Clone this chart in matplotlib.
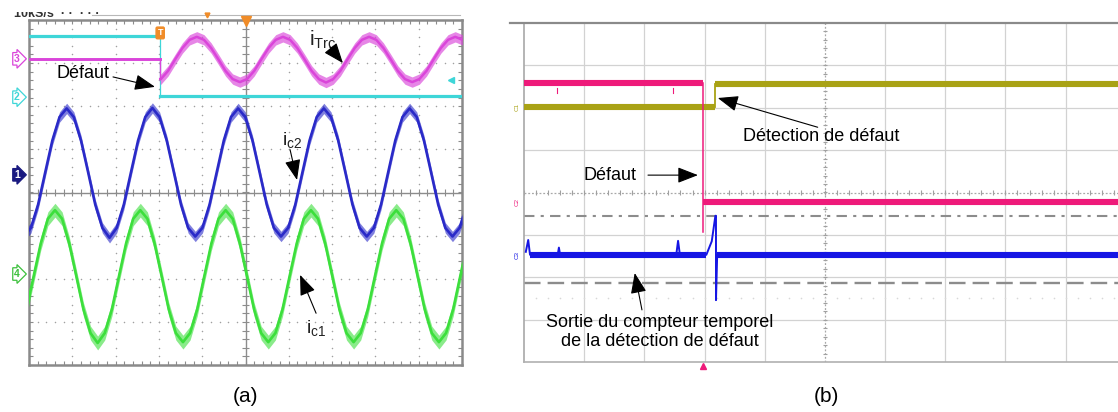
import numpy as np
import matplotlib
matplotlib.use('Agg')
import matplotlib.pyplot as plt
from matplotlib.collections import LineCollection
from matplotlib.patches import Rectangle

plt.rcParams['font.family'] = ['Liberation Sans', 'DejaVu Sans']
plt.rcParams['mathtext.fontset'] = 'custom'
plt.rcParams['mathtext.rm'] = 'Liberation Sans'
plt.rcParams['mathtext.it'] = 'Liberation Sans:italic'
plt.rcParams['mathtext.default'] = 'regular'

W, H = 1118, 412

# ---------------- Panel (a) data, in scope divisions ----------------
FAULT_A_T = 3.03
CYAN_LEVELS = [3.63, 2.23]          # channel 2 before / after fault
TRC_PRE_LEVEL = 3.10                # channel 3 before fault
TRC_T0, TRC_DT = 3.046, 0.1658      # sample instants of i_Trc after fault
TRC_VALUES = [2.63, 2.82, 3.09, 3.35, 3.54, 3.61, 3.54, 3.35, 3.09, 2.82, 2.63,
              2.56, 2.63, 2.82, 3.09, 3.35, 3.54, 3.61, 3.54, 3.35, 3.09, 2.82, 2.63,
              2.55, 2.63, 2.82, 3.09, 3.35, 3.54, 3.61, 3.54, 3.35, 3.09, 2.82, 2.63,
              2.56, 2.63, 2.82, 3.09, 3.35, 3.54, 3.61, 3.54]
IC2_T0, IC2_DT = -0.12, 0.165
IC2_VALUES = [-1.02, -0.82, -0.28, 0.47, 1.21, 1.75, 1.95, 1.75, 1.21, 0.47, -0.28, -0.82,
              -1.05, -0.82, -0.28, 0.47, 1.21, 1.75, 1.96, 1.75, 1.21, 0.47, -0.28, -0.82,
              -1.02, -0.82, -0.28, 0.47, 1.21, 1.75, 1.95, 1.75, 1.21, 0.47, -0.28, -0.82,
              -1.02, -0.82, -0.28, 0.47, 1.21, 1.75, 1.95, 1.75, 1.21, 0.47, -0.28, -0.82,
              -1.02, -0.82, -0.28, 0.47, 1.21, 1.75, 1.95, 1.75, 1.21, 0.47, -0.28, -0.82,
              -1.02, -0.82, -0.28]
IC1_T0, IC1_DT = -0.385, 0.1642
IC1_VALUES = [-3.47, -3.26, -2.71, -1.94, -1.18, -0.61, -0.41, -0.61, -1.18, -1.94, -2.71, -3.26,
              -3.49, -3.26, -2.71, -1.94, -1.18, -0.61, -0.41, -0.61, -1.18, -1.94, -2.71, -3.26,
              -3.47, -3.26, -2.71, -1.94, -1.18, -0.61, -0.41, -0.61, -1.18, -1.94, -2.71, -3.26,
              -3.47, -3.26, -2.71, -1.94, -1.18, -0.61, -0.41, -0.61, -1.18, -1.94, -2.71, -3.26,
              -3.47, -3.26, -2.71, -1.94, -1.18, -0.61, -0.41, -0.61, -1.18, -1.94, -2.71, -3.26,
              -3.47, -3.26, -2.71, -1.94, -1.18]
CHANNEL_TAGS_A = ['3', '2', '1', '4']
CHANNEL_TAG_LEVELS_A = [3.10, 2.21, 0.41, -1.89]

# ---------------- Panel (b) data, in scope divisions ----------------
FAULT_B_T = 2.97
DETECT_B_T = 3.17
B_END = 9.87
PINK_LEVELS = [2.58, -0.22]
PINK_EDGE_LOW = -0.93
OLIVE_LEVELS = [2.02, 2.56]
COUNTER_BASE = -1.47
COUNTER_T = [0.03, 0.07, 0.10, 0.56, 0.58, 0.60, 2.53, 2.56, 2.59, 3.03, 3.12, 3.18, 3.19, 3.19, 3.21, B_END]
COUNTER_V = [-1.40, -1.12, -1.47, -1.47, -1.30, -1.47, -1.47, -1.14, -1.47, -1.47, -1.15, -0.55, -0.55, -2.54, -1.47, -1.47]
REF_DASHDOT = -0.55
REF_DASHED = -2.13
REF_DOTTED = -2.49
CHANNEL_TAGS_B = ['C1', 'C2', 'C3']
CHANNEL_TAG_LEVELS_B = [2.02, -0.22, -1.47]

C_CYAN = '#3ED6D8'
C_MAG = '#DA45DA'
C_BLUE_A = '#2A2AC8'
C_GREEN = '#3CDF3C'
C_PINK = '#EE1A7A'
C_OLIVE = '#A9A215'
C_BLUE_B = '#1616E4'
C_ORANGE = '#F08C28'

fig = plt.figure(figsize=(W / 100, H / 100), dpi=100)
fig.patch.set_facecolor('white')


def add_axes_px(l, t, r, b):
    return fig.add_axes([l / W, (H - b) / H, (r - l) / W, (b - t) / H])


def tick_segments(ax, orient, pos, a0, a1, step, lo, hi, **kw):
    vals = np.arange(a0, a1 + 1e-9, step)
    if orient == 'h':
        segs = [[(v, pos + lo), (v, pos + hi)] for v in vals]
    else:
        segs = [[(pos + lo, v), (pos + hi, v)] for v in vals]
    ax.add_collection(LineCollection(segs, **kw))


arrow_kw = dict(arrowstyle='-|>,head_length=0.9,head_width=0.35', color='black',
                lw=0.8, mutation_scale=14, shrinkA=0, shrinkB=0)

# ================= Panel (a) =================
axA = add_axes_px(29, 20, 462, 365)
axA.set_xlim(0, 10)
axA.set_ylim(-4, 4)
axA.set_xticks([])
axA.set_yticks([])
for s in axA.spines.values():
    s.set_color('#8A8A8A')
    s.set_linewidth(1.8)

gc = '#A0A0A0'
for gx in range(1, 10):
    if gx == 5:
        continue
    ys = np.arange(-4, 4.001, 0.2)
    axA.plot(np.full_like(ys, gx), ys, 'o', ms=1.1, color=gc, mec='none', zorder=1)
for gy in range(-3, 4):
    if gy == 0:
        continue
    xs = np.arange(0, 10.001, 0.2)
    axA.plot(xs, np.full_like(xs, gy), 'o', ms=1.1, color=gc, mec='none', zorder=1)
axA.axhline(0, color='#8C8C8C', lw=1.0, zorder=1)
axA.axvline(5, color='#8C8C8C', lw=1.0, zorder=1)
tk = dict(colors='#8C8C8C', lw=0.8, zorder=1)
tick_segments(axA, 'h', 0, 0, 10, 0.2, -0.07, 0.07, **tk)
tick_segments(axA, 'v', 5, -4, 4, 0.2, -0.07, 0.07, **tk)
tick_segments(axA, 'h', 4, 0, 10, 0.2, -0.1, 0, **tk)
tick_segments(axA, 'h', -4, 0, 10, 0.2, 0, 0.1, **tk)
tick_segments(axA, 'v', 0, -4, 4, 0.2, 0, 0.1, **tk)
tick_segments(axA, 'v', 10, -4, 4, 0.2, -0.1, 0, **tk)


def noisy(ax, t, v, color, noise, lw, z, alpha=0.55):
    t = np.asarray(t)
    v = np.asarray(v)
    ax.fill_between(t, v - noise, v + noise, color=color, alpha=alpha, lw=0, zorder=z)
    ax.plot(t, v, color=color, lw=lw, zorder=z + 0.1, solid_joinstyle='round')


# channel 2 (cyan)
axA.plot([0, FAULT_A_T], [CYAN_LEVELS[0]] * 2, color=C_CYAN, lw=2.3, zorder=3)
axA.plot([FAULT_A_T, FAULT_A_T], CYAN_LEVELS, color=C_CYAN, lw=0.9, zorder=3)
axA.plot([FAULT_A_T, 10], [CYAN_LEVELS[1]] * 2, color=C_CYAN, lw=2.3, zorder=3)
axA.plot([9.75], [2.61], marker='<', color=C_CYAN, ms=5, zorder=3)

# channel 3 (magenta)
trc_t = TRC_T0 + TRC_DT * np.arange(len(TRC_VALUES))
axA.plot([0, FAULT_A_T], [TRC_PRE_LEVEL] * 2, color=C_MAG, lw=2.1, zorder=4)
axA.plot([FAULT_A_T, FAULT_A_T], [TRC_PRE_LEVEL, TRC_VALUES[0]], color=C_MAG, lw=1.0, zorder=4)
noisy(axA, np.r_[FAULT_A_T, trc_t], np.r_[TRC_VALUES[0], TRC_VALUES], C_MAG, 0.12, 1.8, 4, 0.65)

# channel 1 (blue)
ic2_t = IC2_T0 + IC2_DT * np.arange(len(IC2_VALUES))
noisy(axA, ic2_t, IC2_VALUES, C_BLUE_A, 0.12, 1.9, 5, 0.6)
# channel 4 (green)
ic1_t = IC1_T0 + IC1_DT * np.arange(len(IC1_VALUES))
noisy(axA, ic1_t, IC1_VALUES, C_GREEN, 0.16, 1.9, 5, 0.6)

# channel tags
tag_colors = [C_MAG, C_CYAN, '#1A1A80', '#3CC03C']
for lab, lev, col in zip(CHANNEL_TAGS_A, CHANNEL_TAG_LEVELS_A, tag_colors):
    filled = lab == '1'
    axA.text(-0.28, lev, lab, ha='center', va='center', fontsize=7.5,
             color='white' if filled else col, fontweight='bold',
             bbox=dict(boxstyle='rarrow,pad=0.12', fc=col if filled else 'white', ec=col, lw=0.9),
             clip_on=False, zorder=6)

# trigger markers
axA.text(FAULT_A_T, 3.70, 'T', ha='center', va='center', fontsize=6.5, color='white',
         fontweight='bold', bbox=dict(boxstyle='round,pad=0.15', fc=C_ORANGE, ec=C_ORANGE), zorder=7)
axA.plot([5.0], [3.98], marker='v', color=C_ORANGE, ms=7, clip_on=False, zorder=7)
axA.plot([4.11], [4.12], marker='v', color=C_ORANGE, ms=3.5, clip_on=False, zorder=7)
axA.plot([1.45, 9.95], [4.12, 4.12], color='#B8B8B8', lw=0.8, clip_on=False, zorder=1)

# annotations (a)
axA.text(1.25, 2.77, 'Défaut', ha='center', va='center', fontsize=13, zorder=8)
axA.annotate('', xy=(2.91, 2.45), xytext=(1.94, 2.68), arrowprops=arrow_kw, zorder=8)
axA.text(6.79, 3.55, r'$i_{Trc}$', ha='center', va='center', fontsize=15, color='#222222', zorder=8)
axA.annotate('', xy=(7.25, 3.0), xytext=(6.95, 3.37), arrowprops=arrow_kw, zorder=8)
axA.text(6.07, 1.22, r'$i_{c2}$', ha='center', va='center', fontsize=14, color='#222222', zorder=8)
axA.annotate('', xy=(6.19, 0.29), xytext=(6.03, 0.99), arrowprops=arrow_kw, zorder=8)
axA.text(6.63, -3.15, r'$i_{c1}$', ha='center', va='center', fontsize=14, color='#222222', zorder=8)
axA.annotate('', xy=(6.26, -1.91), xytext=(6.63, -2.80), arrowprops=arrow_kw, zorder=8)

# scope header, cut at the top
fig.text(14 / W, 1 - 14 / H, '10kS/s  · ·  · · ·', fontsize=9, fontweight='bold', color='#333333',
         ha='left', va='center', zorder=1)
fig.patches.append(Rectangle((0, 1 - 12 / H), 100 / W, 12 / H, transform=fig.transFigure,
                             fc='white', ec='none', zorder=2))

# ================= Panel (b) =================
axB = add_axes_px(524, 23, 1118, 362)
axB.set_xlim(0, B_END)
axB.set_ylim(-4, 4)
axB.set_xticks([])
axB.set_yticks([])
axB.spines['right'].set_visible(False)
axB.spines['top'].set_visible(False)
axB.spines['left'].set_color('#A8A8A8')
axB.spines['bottom'].set_color('#B0B0B0')
axB.spines['left'].set_linewidth(1.2)
axB.spines['bottom'].set_linewidth(1.2)
fig.add_artist(plt.Line2D([510 / W, 1.0], [1 - 23 / H] * 2, transform=fig.transFigure,
                          color='#8A8A8A', lw=1.6))

for gx in range(1, 10):
    if gx == 5:
        continue
    axB.axvline(gx, color='#D2D2D2', lw=0.9, zorder=1)
for gy in range(-3, 4):
    if gy == 0:
        continue
    axB.axhline(gy, color='#D2D2D2', lw=0.9, zorder=1)
axB.axhline(0, color='#A8A8A8', lw=0.9, ls=(0, (1.5, 1.5)), zorder=1)
axB.axvline(5, color='#A8A8A8', lw=0.9, ls=(0, (1.5, 1.5)), zorder=1)
tkb = dict(colors='#A0A0A0', lw=0.8, zorder=1)
tick_segments(axB, 'h', 0, 0, B_END, 0.2, -0.06, 0.06, **tkb)
tick_segments(axB, 'v', 5, -4, 4, 0.2, -0.04, 0.04, **tkb)

axB.axhline(REF_DASHDOT, color='#8C8C8C', lw=1.5, ls=(0, (5, 3, 1.5, 3)), zorder=2)
axB.axhline(REF_DASHED, color='#8C8C8C', lw=1.7, ls=(0, (7, 3)), zorder=2)
xs = np.arange(0.2, B_END, 0.2)
axB.plot(xs, np.full_like(xs, REF_DOTTED), 'o', ms=1.2, color='#D8D8D8', mec='none', zorder=1)

# pink (fault signal)
axB.plot([0, FAULT_B_T], [PINK_LEVELS[0]] * 2, color=C_PINK, lw=4.4, solid_capstyle='butt', zorder=4)
axB.plot([FAULT_B_T, FAULT_B_T], [PINK_LEVELS[0], PINK_EDGE_LOW], color=C_PINK, lw=1.1, zorder=4)
axB.plot([FAULT_B_T, B_END], [PINK_LEVELS[1]] * 2, color=C_PINK, lw=4.4, solid_capstyle='butt', zorder=4)
for tx in [0.55, 2.48]:
    axB.plot([tx, tx], [2.46, 2.34], color=C_PINK, lw=0.8, zorder=4)
axB.plot([FAULT_B_T], [-4.09], marker='^', color=C_PINK, ms=4, clip_on=False, zorder=4)

# olive (detection)
axB.plot([0, DETECT_B_T], [OLIVE_LEVELS[0]] * 2, color=C_OLIVE, lw=4.4, solid_capstyle='butt', zorder=3)
axB.plot([DETECT_B_T, DETECT_B_T], OLIVE_LEVELS, color=C_OLIVE, lw=1.3, zorder=3)
axB.plot([DETECT_B_T, B_END], [OLIVE_LEVELS[1]] * 2, color=C_OLIVE, lw=4.4, solid_capstyle='butt', zorder=3)

# blue (counter output)
axB.plot(COUNTER_T, COUNTER_V, color=C_BLUE_B, lw=1.4, zorder=5)
axB.plot([COUNTER_T[2], COUNTER_T[9]], [COUNTER_BASE] * 2, color=C_BLUE_B, lw=4.4, solid_capstyle='butt', zorder=5)
axB.plot([COUNTER_T[14], B_END], [COUNTER_BASE] * 2, color=C_BLUE_B, lw=4.4, solid_capstyle='butt', zorder=5)

for lab, lev, col in zip(CHANNEL_TAGS_B, CHANNEL_TAG_LEVELS_B, [C_OLIVE, C_PINK, C_BLUE_B]):
    axB.text(-0.12, lev, lab, rotation=90, ha='center', va='center', fontsize=4.5, color=col,
             clip_on=False)

# annotations (b)
axB.text(1.43, 0.41, 'Défaut', ha='center', va='center', fontsize=13, zorder=8)
axB.annotate('', xy=(2.89, 0.41), xytext=(2.06, 0.41), arrowprops=arrow_kw, zorder=8)
axB.text(3.64, 1.31, 'Détection de défaut', ha='left', va='center', fontsize=13, zorder=8)
axB.annotate('', xy=(3.22, 2.23), xytext=(4.88, 1.54), arrowprops=arrow_kw, zorder=8)
axB.text(2.26, -3.29, 'Sortie du compteur temporel\nde la détection de défaut', ha='center',
         va='center', fontsize=13, linespacing=1.12, zorder=8)
axB.annotate('', xy=(1.84, -1.90), xytext=(1.96, -2.77), arrowprops=arrow_kw, zorder=8)

# panel labels
fig.text(246 / W, 1 - 397 / H, '(a)', ha='center', va='center', fontsize=15)
fig.text(826 / W, 1 - 397 / H, '(b)', ha='center', va='center', fontsize=15)

fig.savefig('out.png', dpi=100, facecolor='white')
